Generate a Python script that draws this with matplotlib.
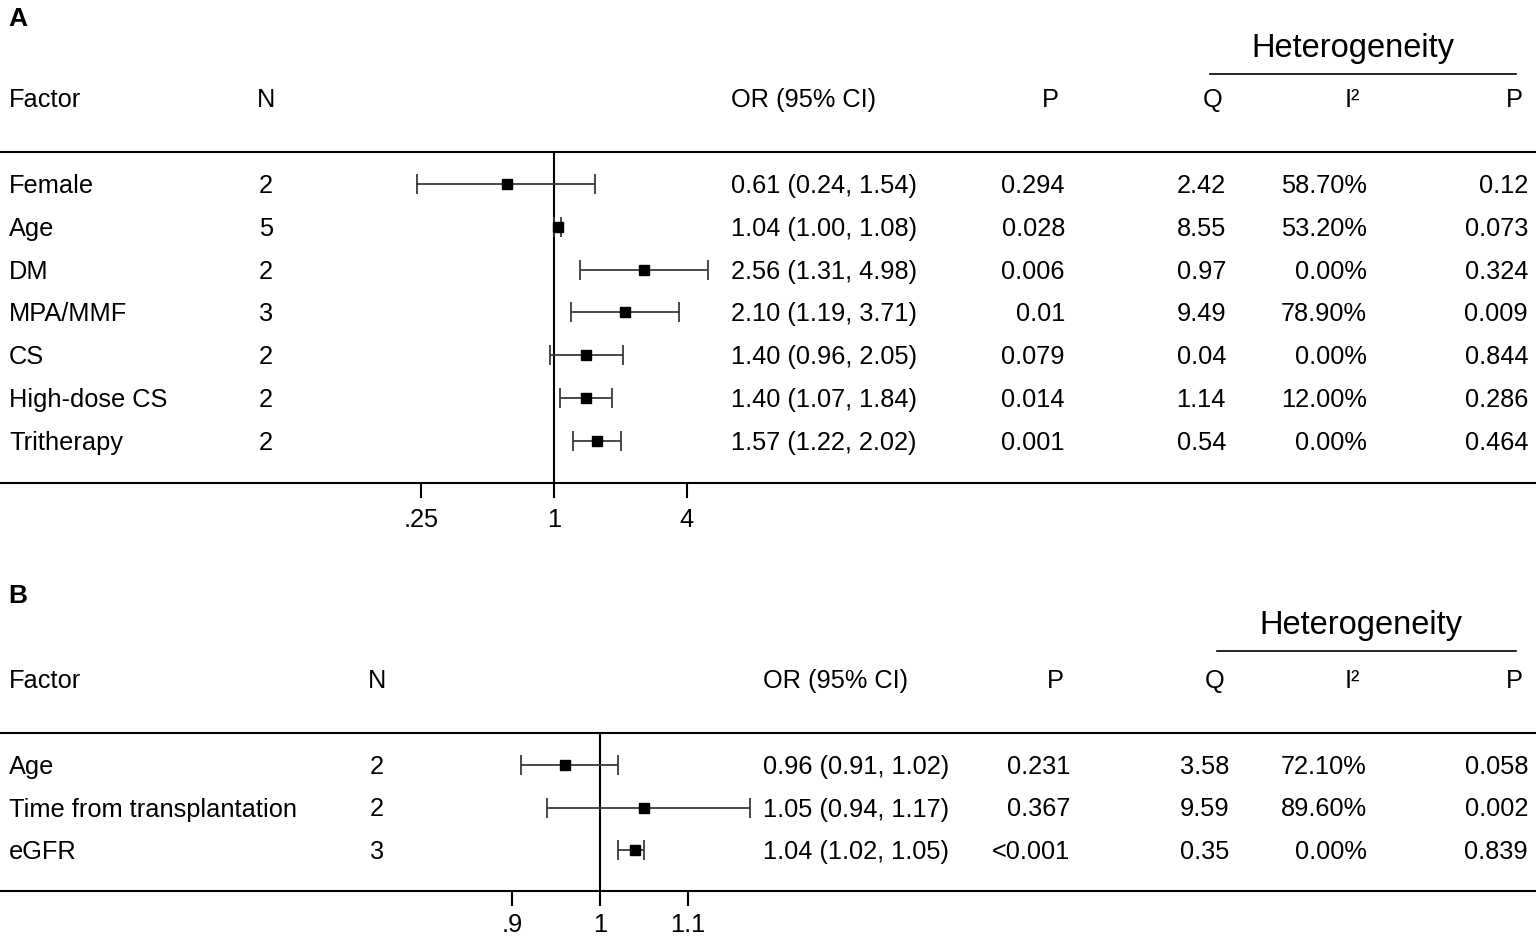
import matplotlib
matplotlib.use("Agg")
import matplotlib.pyplot as plt
from matplotlib.transforms import blended_transform_factory

plt.rcParams['font.family'] = ['Liberation Sans', 'DejaVu Sans']

# panel A data
factors_a = ['Female', 'Age', 'DM', 'MPA/MMF', 'CS', 'High-dose CS', 'Tritherapy']
n_a = [2, 5, 2, 3, 2, 2, 2]
or_a = [0.61, 1.04, 2.56, 2.10, 1.40, 1.40, 1.57]
lo_a = [0.24, 1.00, 1.31, 1.19, 0.96, 1.07, 1.22]
hi_a = [1.54, 1.08, 4.98, 3.71, 2.05, 1.84, 2.02]
p_a = ['0.294', '0.028', '0.006', '0.01', '0.079', '0.014', '0.001']
q_a = ['2.42', '8.55', '0.97', '9.49', '0.04', '1.14', '0.54']
i2_a = ['58.70%', '53.20%', '0.00%', '78.90%', '0.00%', '12.00%', '0.00%']
ph_a = ['0.12', '0.073', '0.324', '0.009', '0.844', '0.286', '0.464']
ticks_a = [0.25, 1, 4]
ticklabels_a = ['.25', '1', '4']

# panel B data
factors_b = ['Age', 'Time from transplantation', 'eGFR']
n_b = [2, 2, 3]
or_b = [0.96, 1.05, 1.04]
lo_b = [0.91, 0.94, 1.02]
hi_b = [1.02, 1.17, 1.05]
p_b = ['0.231', '0.367', '<0.001']
q_b = ['3.58', '9.59', '0.35']
i2_b = ['72.10%', '89.60%', '0.00%']
ph_b = ['0.058', '0.002', '0.839']
ticks_b = [0.9, 1, 1.1]
ticklabels_b = ['.9', '1', '1.1']

W, H = 1536, 936
fig = plt.figure(figsize=(W / 100, H / 100), dpi=100)
bg = fig.add_axes([0, 0, 1, 1])
bg.set_xlim(0, W)
bg.set_ylim(H, 0)
bg.axis('off')

FS = 18.3
LW = 1.5


def panel(label, top, y_top, y_bot, factors, n, orv, lo, hi, p, q, i2, ph,
          ticks, ticklabels, logx, xpix, xlim, row0, step, cols, tick_off):
    # cols: N center, OR left, P right, P hdr, Q right, Q hdr, I2 right, I2 hdr, P2 right, P2 hdr, het center, het line
    n_x, or_x, p_x, p_h, q_x, q_h, i_x, i_h, pp_x, pp_h, het_c, het_l = cols
    bg.text(8, top + 26, label, fontsize=19, fontweight='bold', va='baseline')
    bg.text(het_c, top + 57, 'Heterogeneity', fontsize=23.5, ha='center', va='baseline')
    bg.plot(het_l, [top + 74, top + 74], color='black', lw=1.2)
    hy = y_top - 45
    bg.text(9, hy, 'Factor', fontsize=FS, va='baseline')
    bg.text(n_x, hy, 'N', fontsize=FS, ha='center', va='baseline')
    bg.text(or_x, hy, 'OR (95% CI)', fontsize=FS, va='baseline')
    bg.text(p_h, hy, 'P', fontsize=FS, ha='center', va='baseline')
    bg.text(q_h, hy, 'Q', fontsize=FS, ha='center', va='baseline')
    bg.text(i_h, hy, 'I²', fontsize=FS, ha='center', va='baseline')
    bg.text(pp_h, hy, 'P', fontsize=FS, ha='center', va='baseline')
    bg.plot([0, W], [y_top, y_top], color='black', lw=LW)
    bg.plot([0, W], [y_bot, y_bot], color='black', lw=LW)

    for i, f in enumerate(factors):
        y = row0 + i * step + 9
        bg.text(9, y, f, fontsize=FS, va='baseline')
        bg.text(n_x, y, str(n[i]), fontsize=FS, ha='center', va='baseline')
        bg.text(or_x, y, f'{orv[i]:.2f} ({lo[i]:.2f}, {hi[i]:.2f})', fontsize=FS, va='baseline')
        bg.text(p_x, y, p[i], fontsize=FS, ha='right', va='baseline')
        bg.text(q_x, y, q[i], fontsize=FS, ha='right', va='baseline')
        bg.text(i_x, y, i2[i], fontsize=FS, ha='right', va='baseline')
        bg.text(pp_x, y, ph[i], fontsize=FS, ha='right', va='baseline')

    x0, x1 = xpix
    ax = fig.add_axes([x0 / W, 1 - y_bot / H, (x1 - x0) / W, (y_bot - y_top) / H])
    ax.patch.set_alpha(0)
    if logx:
        ax.set_xscale('log', base=2)
    ax.set_xlim(*xlim)
    rows = list(range(len(factors)))
    ax.set_ylim((y_bot - row0) / step, (y_top - row0) / step)
    for s in ax.spines.values():
        s.set_visible(False)
    ax.set_yticks([])
    ax.set_xticks(ticks)
    ax.set_xticks([], minor=True)
    ax.tick_params(axis='x', length=11, width=LW, direction='out', labelbottom=False)
    ax.axvline(1, color='black', lw=LW, zorder=1)
    ax.errorbar(orv, rows, xerr=[[o - l for o, l in zip(orv, lo)], [h - o for o, h in zip(orv, hi)]],
                fmt='s', color='#2a2a2a', ecolor='#3a3a3a', elinewidth=1.3, capsize=7.5,
                capthick=1.3, markersize=7.5, markerfacecolor='black', markeredgecolor='black', zorder=3)
    tr = blended_transform_factory(ax.transData, bg.transData)
    for t, tl in zip(ticks, ticklabels):
        bg.text(t, y_bot + tick_off, tl, transform=tr, fontsize=FS, ha='center', va='baseline')


panel('A', 0, 152, 483, factors_a, n_a, or_a, lo_a, hi_a, p_a, q_a, i2_a, ph_a,
      ticks_a, ticklabels_a, True, (380, 720),
      (2 ** ((380 - 554) / 66.3), 2 ** ((720 - 554) / 66.3)), 184, 42.8,
      (266, 731, 1065, 1050, 1226, 1213, 1367, 1352, 1528, 1514, 1353, [1210, 1516]), 44)

panel('B', 577, 733, 891, factors_b, n_b, or_b, lo_b, hi_b, p_b, q_b, i2_b, ph_b,
      ticks_b, ticklabels_b, False, (470, 780),
      (1 + (470 - 600) / 880, 1 + (780 - 600) / 880), 765, 42.5,
      (377, 763, 1070, 1055, 1229, 1215, 1367, 1352, 1528, 1514, 1361, [1217, 1516]), 41)

fig.savefig('out.png', dpi=100)
